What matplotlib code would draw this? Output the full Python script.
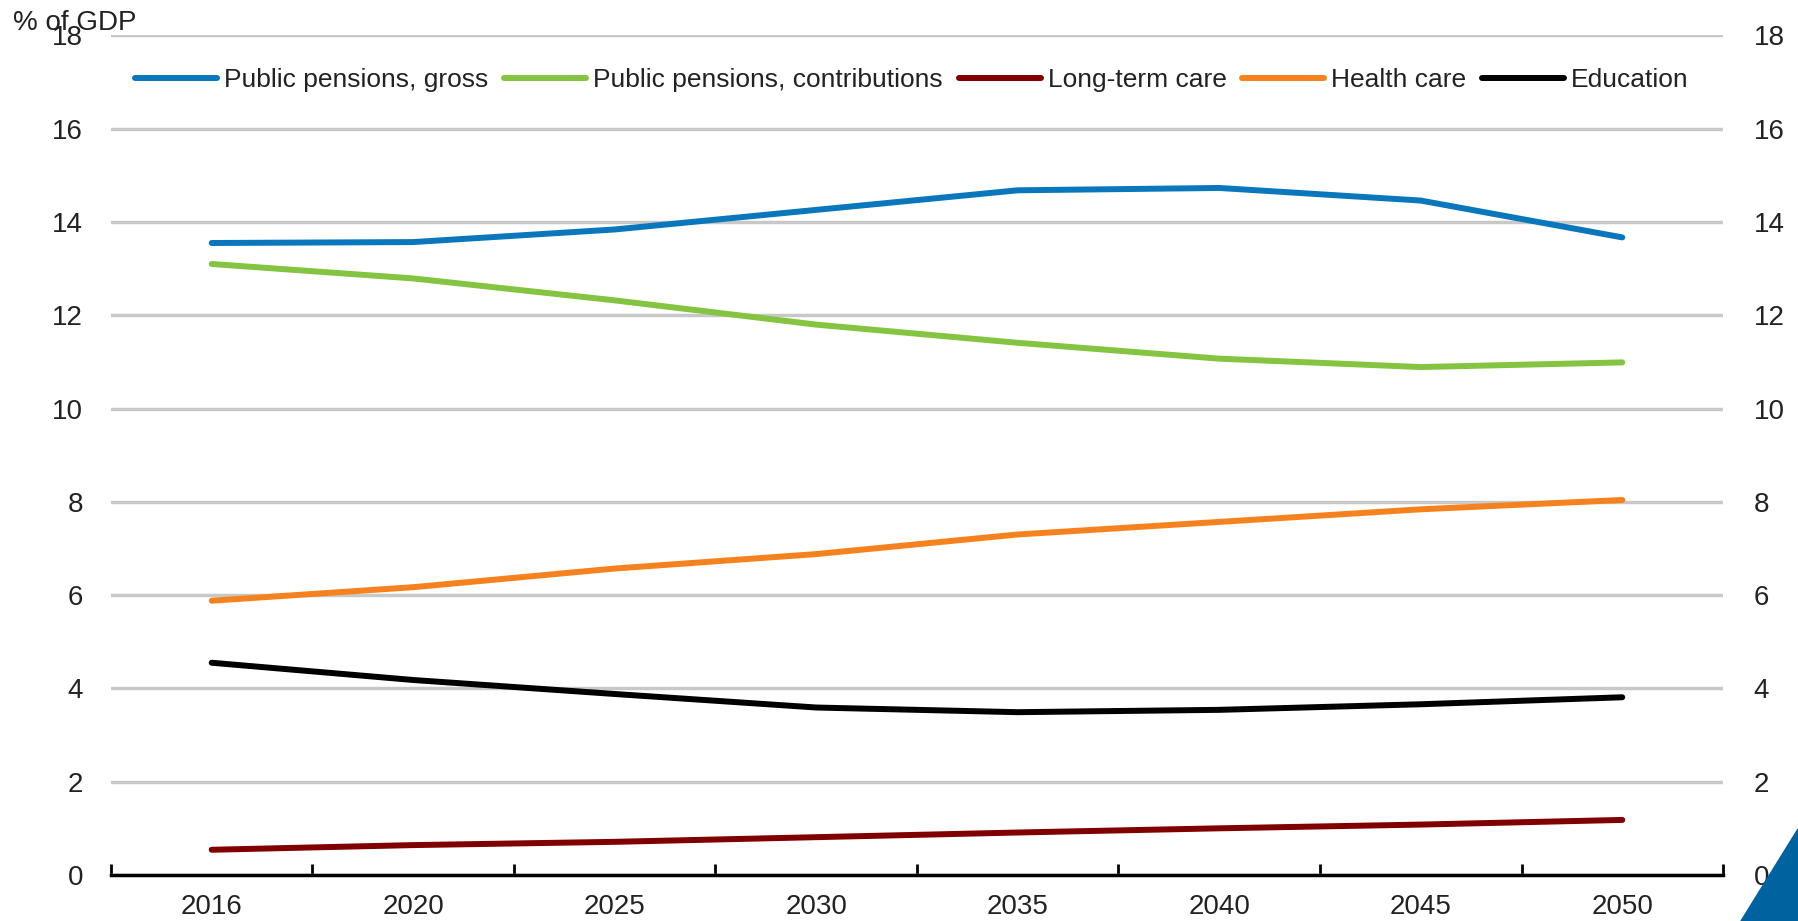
import matplotlib
matplotlib.use('Agg')
import matplotlib.pyplot as plt
from matplotlib.patches import Polygon
import numpy as np

plt.rcParams['font.family'] = ['Liberation Sans Narrow', 'Liberation Sans', 'DejaVu Sans']

# categories and series (% of GDP)
years = ['2016', '2020', '2025', '2030', '2035', '2040', '2045', '2050']
pensions_gross = [13.55, 13.57, 13.84, 14.26, 14.68, 14.73, 14.46, 13.67]
pensions_contrib = [13.10, 12.79, 12.32, 11.80, 11.41, 11.07, 10.89, 10.99]
long_term_care = [0.54, 0.64, 0.71, 0.81, 0.91, 1.00, 1.08, 1.18]
health_care = [5.88, 6.17, 6.57, 6.88, 7.30, 7.57, 7.84, 8.04]
education = [4.55, 4.18, 3.88, 3.59, 3.49, 3.54, 3.66, 3.81]
yticks = [0, 2, 4, 6, 8, 10, 12, 14, 16, 18]

series = [
    ("Public pensions, gross", pensions_gross, "#0A77BD"),
    ("Public pensions, contributions", pensions_contrib, "#84C441"),
    ("Long-term care", long_term_care, "#800000"),
    ("Health care", health_care, "#F5821F"),
    ("Education", education, "#000000"),
]

txtcol = '#222222'

fig = plt.figure(figsize=(17.98, 9.21), dpi=100)
ax = fig.add_axes([0.0617, 0.05, 0.8966, 0.9115])

x = np.arange(len(years))
for name, vals, col in series:
    ax.plot(x, vals, color=col, lw=4.3, solid_capstyle='round', label=name, zorder=3)

ax.set_xlim(-0.5, len(years) - 0.5)
ax.set_ylim(0, 18)
ax.set_yticks(yticks)
ax.yaxis.grid(True, color='#c8c8c8', lw=2.5)
ax.set_axisbelow(True)

for s in ['top', 'left', 'right']:
    ax.spines[s].set_visible(False)
ax.spines['bottom'].set_linewidth(2.5)
ax.spines['bottom'].set_zorder(4)

# ticks between categories, labels at centres
ax.set_xticks(np.arange(-0.5, len(years), 1.0))
ax.set_xticklabels([])
ax.set_xticks(x, minor=True)
ax.set_xticklabels(years, minor=True)
ax.tick_params(axis='x', which='major', direction='in', length=8, width=2)
ax.tick_params(axis='x', which='minor', length=0, pad=14, labelsize=20, colors=txtcol)
ax.tick_params(axis='y', length=0, labelsize=20, pad=20, colors=txtcol)

# right-hand labels, same scale
ax2 = ax.twinx()
ax2.set_ylim(ax.get_ylim())
ax2.set_yticks(yticks)
ax2.tick_params(axis='y', length=0, labelsize=20, pad=22, colors=txtcol)
for s in ax2.spines.values():
    s.set_visible(False)

fig.text(0.007, 0.975, "% of GDP", fontsize=20, va='center', ha='left', color=txtcol)

leg = ax.legend(loc='center', bbox_to_anchor=(0.497, 0.947), ncol=5, frameon=False,
                fontsize=19, handlelength=3.1, handletextpad=0.27, columnspacing=0.6)
for t in leg.get_texts():
    t.set_color(txtcol)

# corner triangle
tri = Polygon([[1741 / 1798, 0], [1, 92 / 921], [1, 0]], closed=True,
              transform=fig.transFigure, color='#00629F', zorder=10)
fig.patches.append(tri)

fig.savefig('out.png', dpi=100)
